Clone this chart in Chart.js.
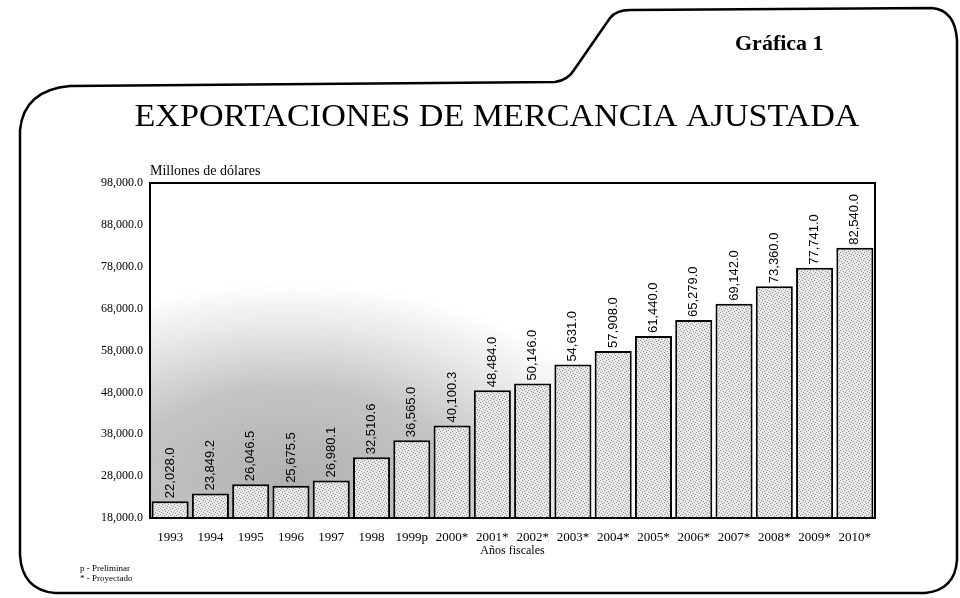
<!DOCTYPE html>
<html lang="es">
<head>
<meta charset="utf-8">
<title>Exportaciones de mercancía ajustada</title>
<script src="https://cdn.jsdelivr.net/npm/chart.js@4.4.1/dist/chart.umd.min.js"></script>
<style>
    html, body { margin: 0; padding: 0; background: #fff; }
    #wrap { position: relative; width: 960px; height: 598px; }
</style>
</head>
<body>
<div id="wrap"><canvas id="exportChart" width="960" height="598"></canvas></div>
<script>
// Años fiscales (p = preliminar, * = proyectado)
const years = ['1993', '1994', '1995', '1996', '1997', '1998', '1999p', '2000*', '2001*',
    '2002*', '2003*', '2004*', '2005*', '2006*', '2007*', '2008*', '2009*', '2010*'];

// Millones de dólares
const exportValues = [22028.0, 23849.2, 26046.5, 25675.5, 26980.1, 32510.6, 36565.0, 40100.3,
    48484.0, 50146.0, 54631.0, 57908.0, 61440.0, 65279.0, 69142.0, 73360.0, 77741.0, 82540.0];

// Eje Y
const yMin = 18000;
const yMax = 98000;
const yStep = 10000;

const titleText = 'EXPORTACIONES DE MERCANCIA AJUSTADA';
const tabText = 'Gráfica 1';
const unitText = 'Millones de dólares';
const axisTitle = 'Años fiscales';
const footnotes = ['p - Preliminar', '* - Proyectado'];

const SERIF = "'Liberation Serif', 'Times New Roman', serif";
const SANS = "'Liberation Sans', Arial, sans-serif";

/**
 * Stippled gray fill like the printed bars
 */
function makeStipple() {
    const c = document.createElement('canvas');
    c.width = 6;
    c.height = 6;
    const g = c.getContext('2d');
    g.fillStyle = '#e8e8e8';
    g.fillRect(0, 0, 6, 6);
    g.fillStyle = '#909090';
    [[0, 0], [3, 1], [1, 3], [4, 4], [2, 5], [5, 2]].forEach(p => g.fillRect(p[0], p[1], 1, 1));
    return g.createPattern(c, 'repeat');
}

function fmt(v) {
    return v.toLocaleString('en-US', { minimumFractionDigits: 1, maximumFractionDigits: 1 });
}

// Folder-shaped frame, titles and footnotes
const framePlugin = {
    id: 'frame',
    beforeDraw(chart) {
        const ctx = chart.ctx;
        ctx.save();
        ctx.fillStyle = '#fff';
        ctx.fillRect(0, 0, chart.width, chart.height);
        ctx.strokeStyle = '#000';
        ctx.lineWidth = 2.5;
        ctx.beginPath();
        ctx.moveTo(20, 555);
        ctx.lineTo(20, 130);
        ctx.quadraticCurveTo(24, 90, 70, 86);
        ctx.lineTo(555, 82);
        ctx.quadraticCurveTo(568, 80, 574, 70);
        ctx.lineTo(610, 18);
        ctx.quadraticCurveTo(616, 10, 630, 10);
        ctx.lineTo(932, 8);
        ctx.quadraticCurveTo(955, 10, 957, 40);
        ctx.lineTo(957, 560);
        ctx.quadraticCurveTo(955, 590, 925, 593);
        ctx.lineTo(55, 593);
        ctx.quadraticCurveTo(22, 590, 20, 555);
        ctx.stroke();

        // plot background shading (elliptical, lower left)
        const a = chart.chartArea;
        ctx.save();
        ctx.beginPath();
        ctx.rect(a.left, a.top, a.right - a.left, a.bottom - a.top);
        ctx.clip();
        ctx.translate(a.left + 140, a.bottom - 40);
        ctx.scale(1.5, 0.85);
        const grad = ctx.createRadialGradient(0, 0, 5, 0, 0, 230);
        grad.addColorStop(0, '#b2b2b2');
        grad.addColorStop(0.45, '#c4c4c4');
        grad.addColorStop(0.75, '#e6e6e6');
        grad.addColorStop(1, '#ffffff');
        ctx.fillStyle = grad;
        ctx.fillRect(-300, -400, 700, 500);
        ctx.restore();
        ctx.restore();
    },
    afterDraw(chart) {
        const ctx = chart.ctx;
        const a = chart.chartArea;
        ctx.save();
        // plot box
        ctx.strokeStyle = '#000';
        ctx.lineWidth = 2;
        ctx.strokeRect(a.left, a.top, a.right - a.left, a.bottom - a.top);

        ctx.fillStyle = '#000';
        ctx.textBaseline = 'alphabetic';

        ctx.font = 'bold 22px ' + SERIF;
        ctx.textAlign = 'left';
        ctx.fillText(tabText, 735, 50);

        ctx.font = '31px ' + SERIF;
        ctx.textAlign = 'center';
        const w = ctx.measureText(titleText).width;
        ctx.save();
        ctx.translate(497, 126);
        ctx.scale(725 / w, 1);
        ctx.fillText(titleText, 0, 0);
        ctx.restore();

        ctx.font = '14px ' + SERIF;
        ctx.textAlign = 'left';
        ctx.fillText(unitText, 150, 175);

        ctx.font = '9px ' + SERIF;
        ctx.fillText(footnotes[0], 80, 571);
        ctx.fillText(footnotes[1], 80, 581);
        ctx.restore();
    }
};

// Rotated value labels above each bar
const valueLabelPlugin = {
    id: 'valueLabels',
    afterDatasetsDraw(chart) {
        const ctx = chart.ctx;
        const meta = chart.getDatasetMeta(0);
        ctx.save();
        ctx.font = '13px ' + SANS;
        ctx.fillStyle = '#000';
        ctx.textAlign = 'left';
        ctx.textBaseline = 'middle';
        meta.data.forEach((bar, i) => {
            ctx.save();
            ctx.translate(bar.x, bar.y - 3);
            ctx.rotate(-Math.PI / 2);
            ctx.fillText(fmt(exportValues[i]), 0, 0);
            ctx.restore();
        });
        ctx.restore();
    }
};

const chart = new Chart(document.getElementById('exportChart'), {
    type: 'bar',
    data: {
        labels: years,
        datasets: [{
            data: exportValues,
            backgroundColor: makeStipple(),
            borderColor: '#000',
            borderWidth: 2,
            borderSkipped: 'bottom',
            categoryPercentage: 0.92,
            barPercentage: 1.0
        }]
    },
    options: {
        responsive: false,
        animation: false,
        layout: {
            padding: { left: 0, right: 85, top: 183, bottom: 40 }
        },
        plugins: {
            legend: { display: false },
            tooltip: { enabled: false }
        },
        scales: {
            x: {
                grid: { display: false, drawTicks: false },
                border: { color: '#000', width: 2 },
                ticks: {
                    color: '#000',
                    padding: 12,
                    maxRotation: 0,
                    autoSkip: false,
                    font: { family: SERIF, size: 13 }
                },
                title: {
                    display: true,
                    text: axisTitle,
                    color: '#000',
                    padding: { top: -14, bottom: 0 },
                    font: { family: SERIF, size: 12 }
                }
            },
            y: {
                min: yMin,
                max: yMax,
                grid: { display: false, drawTicks: false },
                border: { color: '#000', width: 2 },
                afterFit(scale) { scale.width = 150; },
                ticks: {
                    stepSize: yStep,
                    color: '#000',
                    padding: 7,
                    font: { family: SERIF, size: 12 },
                    callback: v => fmt(v)
                }
            }
        }
    },
    plugins: [framePlugin, valueLabelPlugin]
});
</script>
</body>
</html>
